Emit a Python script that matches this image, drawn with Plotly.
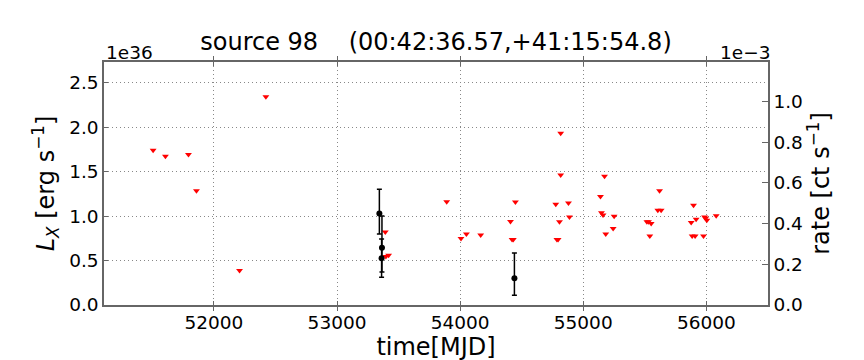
import plotly.graph_objects as go

# upper limits (red triangles), L_X in units of 1e36 erg/s
lim_mjd = [51506, 51606, 51793, 51858, 52208, 52422, 53392, 53397, 53419,
           53891, 54007, 54051, 54167, 54409, 54449, 54422, 54432,
           54817, 54817, 54777, 54880, 54807, 54888, 54786, 54796,
           55173, 55140, 55148, 55161, 55251, 55243, 55183,
           55620, 55606, 55633, 55517, 55530, 55552, 55541,
           55896, 55877, 55917, 55885, 55909, 55986, 55994, 56004, 55977, 56080]
lim_lx = [1.741, 1.672, 1.694, 1.285, 0.389, 2.342, 0.821, 0.545, 0.560,
          1.161, 0.748, 0.799, 0.788, 0.940, 1.158, 0.737, 0.737,
          1.933, 1.462, 1.133, 1.147, 0.937, 0.991, 0.737, 0.737,
          1.448, 1.220, 1.038, 1.013, 0.998, 0.861, 0.799,
          1.285, 1.067, 1.067, 0.937, 0.937, 0.918, 0.777,
          1.122, 0.929, 0.965, 0.777, 0.777, 0.991, 0.976, 0.954, 0.777, 1.005]

# detections (black points with error bars)
det_mjd = [53344, 53365, 53362, 54441]
det_lx = [1.030, 0.643, 0.527, 0.302]
det_err_hi = [0.272, 0.359, 0.214, 0.283]
det_err_lo = [0.231, 0.271, 0.214, 0.191]

X_RANGE = [51107, 56501]
LX_RANGE = [0, 2.733]
RATE_RANGE = [0, 1.195]

FONT = "DejaVu Sans"
AXIS_COL = "#666"
GRID_COL = "#888"

fig = go.Figure()
fig.add_trace(go.Scatter(
    x=lim_mjd, y=lim_lx, mode="markers",
    marker=dict(symbol="triangle-down", size=6, color="#ff0000"),
    showlegend=False,
))
fig.add_trace(go.Scatter(
    x=det_mjd, y=det_lx, mode="markers",
    marker=dict(symbol="circle", size=6, color="black"),
    error_y=dict(type="data", symmetric=False, array=det_err_hi,
                 arrayminus=det_err_lo, color="black", thickness=1.5, width=2.5),
    showlegend=False,
))
# dummy trace so the right-hand rate axis is drawn
fig.add_trace(go.Scatter(
    x=[X_RANGE[0]], y=[0], yaxis="y2", mode="markers",
    marker=dict(opacity=0), hoverinfo="skip", showlegend=False,
))

tick_font = dict(family=FONT, size=18.5, color="black")
label_font = dict(family=FONT, size=24, color="black")

fig.update_layout(
    width=864, height=360,
    margin=dict(l=96, r=104, t=54, b=54),
    plot_bgcolor="white", paper_bgcolor="white",
    font=dict(family=FONT, color="black"),
    title=dict(
        text="source 98\u00a0\u00a0\u00a0\u00a0(00:42:36.57,+41:15:54.8)",
        font=label_font, x=0.5, xref="paper", xanchor="center",
        y=1 - 34 / 360, yref="container", yanchor="middle",
    ),
    xaxis=dict(
        range=X_RANGE, dtick=1000, tick0=52000, tickformat="d",
        ticks="inside", ticklen=4, tickcolor=AXIS_COL, mirror="allticks",
        showline=True, linecolor=AXIS_COL, linewidth=1.5,
        showgrid=True, gridcolor=GRID_COL, gridwidth=1, griddash="1px,3px",
        zeroline=False, tickfont=tick_font,
        title=dict(text="time[MJD]", font=label_font, standoff=6),
    ),
    yaxis=dict(
        range=LX_RANGE, dtick=0.5, tick0=0, tickformat=".1f",
        ticks="inside", ticklen=4, tickcolor=AXIS_COL,
        showline=True, linecolor=AXIS_COL, linewidth=1.5,
        showgrid=True, gridcolor=GRID_COL, gridwidth=1, griddash="1px,3px",
        zeroline=False, tickfont=tick_font,
        title=dict(text="<i>L</i><sub><i>X</i></sub> [erg s<sup>\u22121</sup>]",
                   font=label_font, standoff=8),
    ),
    yaxis2=dict(
        overlaying="y", side="right", range=RATE_RANGE, dtick=0.2, tick0=0,
        tickformat=".1f", ticks="inside", ticklen=6, tickcolor=AXIS_COL,
        showline=True, linecolor=AXIS_COL, linewidth=1.5,
        showgrid=False, zeroline=False, tickfont=tick_font,
        title=dict(text="rate [ct s<sup>\u22121</sup>]", font=label_font, standoff=2),
    ),
)

# scale factors shown above the axes, matplotlib style
fig.add_annotation(text="1e36", xref="paper", yref="paper", x=0, y=1,
                   xanchor="left", yanchor="bottom", showarrow=False,
                   font=tick_font, yshift=-3)
fig.add_annotation(text="1e\u22123", xref="paper", yref="paper", x=1, y=1,
                   xanchor="right", yanchor="bottom", showarrow=False,
                   font=tick_font, xshift=4, yshift=-3)

fig.write_html("out.html")
